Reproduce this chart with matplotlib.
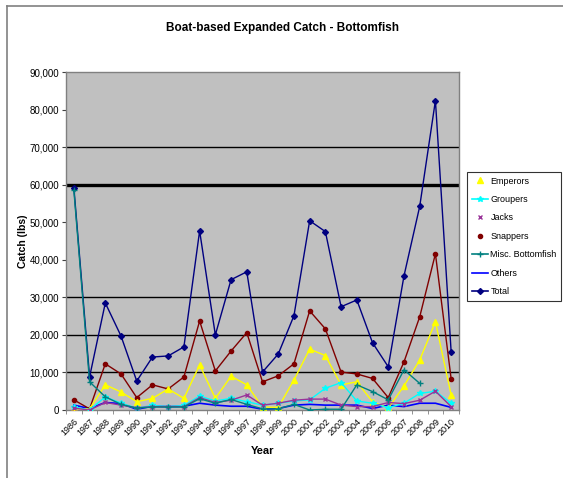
import numpy as np
import matplotlib
matplotlib.use("Agg")
import matplotlib.pyplot as plt
from matplotlib.lines import Line2D

plt.rcParams["font.family"] = ["Liberation Sans", "DejaVu Sans"]

# Data (lbs)
years = [str(y) for y in range(1986, 2011)]
emperors = [300, 300, 6700, 4800, 2200, 3100, 5600, 3100, 12000, 3100, 9000, 6700,
            800, 700, 8000, 16200, 14500, 6700, 7500, 2200, 500, 6400, 13300, 23500, 4000]
groupers = [800, 0, 3500, 1800, 500, 1200, 900, 1200, 3700, 2400, 3100, 2200,
            1300, 1800, 2400, 2700, 5800, 7300, 2400, 1800, 600, 1800, 4400, 5000, 1800]
jacks = [500, 0, 2000, 1300, 600, 900, 900, 900, 3300, 2000, 2600, 4000,
         1300, 1800, 2600, 2900, 2900, 1300, 900, 900, 2000, 1700, 2600, 5000, 900]
snappers = [2700, 300, 12300, 9600, 3300, 6700, 5600, 8800, 23700, 10400, 15700, 20600,
            7500, 9100, 12300, 26400, 21600, 10100, 9600, 8400, 3300, 12800, 24800, 41600, 8300]
misc = [58500, 7500, 3500, 1500, 500, 800, 800, 800, 3000, 1800, 2800, 1500,
        300, 300, 1500, 0, 200, 200, 6700, 4900, 2700, 10700, 7100, np.nan, np.nan]
others = [1300, 400, 2000, 1700, 200, 1000, 900, 1000, 1800, 1300, 1000, 1000,
          200, 400, 1300, 1500, 1300, 1300, 1300, 400, 1300, 900, 1800, 1800, 700]
total = [59200, 8800, 28500, 19700, 7700, 14100, 14400, 16800, 47700, 20000, 34700, 36800,
         10100, 14900, 25100, 50400, 47500, 27500, 29300, 17900, 11500, 35700, 54200, 82400, 15500]

W, H = 563, 478
fig = plt.figure(figsize=(W / 100, H / 100), dpi=100)
ax = fig.add_axes([66 / W, 1 - 410 / H, (459 - 66) / W, (410 - 72) / H])
ax.set_facecolor("#C0C0C0")

x = np.arange(len(years))

# selected gridlines as in the reference
for v, lw in [(70000, 1.0), (60000, 2.4), (30000, 1.0), (20000, 1.0), (10000, 1.0)]:
    ax.axhline(v, color="black", lw=lw, zorder=1)

ax.plot(x, total, color="#000080", lw=1.0, marker="D", ms=3, zorder=3)
ax.plot(x, others, color="#0000FF", lw=1.2, zorder=3)
ax.plot(x, snappers, color="#800000", lw=1.0, marker="o", ms=3, zorder=4)
ax.plot(x, emperors, color="#FFFF00", lw=1.0, marker="^", ms=4, zorder=4)
ax.plot(x, groupers, color="#00FFFF", lw=1.0, marker="*", ms=4, zorder=4)
ax.plot(x, jacks, color="#993399", lw=1.0, marker="x", ms=3, zorder=4)
ax.plot(x, misc, color="#008080", lw=1.0, marker="+", ms=4, zorder=5)

ax.set_xlim(-0.5, len(years) - 0.5)
ax.set_ylim(0, 90000)
ax.set_yticks(np.arange(0, 90001, 10000))
ax.set_yticklabels(["0"] + [f"{v:,}" for v in range(10000, 90001, 10000)], fontsize=7)
ax.set_xticks(x)
ax.set_xticklabels(years, rotation=45, ha="right", rotation_mode="anchor", fontsize=6.5)
ax.set_xticks(np.arange(-0.5, len(years), 1), minor=True)
ax.tick_params(axis="x", which="major", length=0, pad=5)
ax.tick_params(axis="x", which="minor", length=3, color="#808080", direction="out")
ax.tick_params(axis="y", length=3, color="#404040", pad=2)
for s in ax.spines.values():
    s.set_color("#808080")
    s.set_linewidth(1.0)

ax.set_ylabel("Catch (lbs)", fontsize=7.5, fontweight="bold", labelpad=1)
ax.set_xlabel("Year", fontsize=8, fontweight="bold", labelpad=6)
fig.text(282 / W, 1 - 28 / H, "Boat-based Expanded Catch - Bottomfish",
         ha="center", va="center", fontsize=8.5, fontweight="bold")

handles = [
    Line2D([], [], color="#FFFF00", ls="none", marker="^", ms=4),
    Line2D([], [], color="#00FFFF", lw=1.2, marker="*", ms=4),
    Line2D([], [], color="#993399", ls="none", marker="x", ms=3),
    Line2D([], [], color="#800000", ls="none", marker="o", ms=3),
    Line2D([], [], color="#008080", lw=1.2, marker="+", ms=4),
    Line2D([], [], color="#0000FF", lw=1.2),
    Line2D([], [], color="#000080", lw=1.2, marker="D", ms=3),
]
labels = ["Emperors", "Groupers", "Jacks", "Snappers", "Misc. Bottomfish", "Others", "Total"]
leg = fig.legend(handles, labels, loc="upper left", bbox_to_anchor=(467 / W, 1 - 172 / H),
                 fontsize=6.5, frameon=True, fancybox=False, edgecolor="black",
                 handlelength=1.8, handletextpad=0.3, labelspacing=1.05,
                 borderpad=0.5, borderaxespad=0)
leg.get_frame().set_linewidth(0.8)

# chart frame (top and left edges visible)
fig.add_artist(Line2D([7 / W, 7 / W], [0, 1 - 6 / H], color="#808080", lw=1.2))
fig.add_artist(Line2D([7 / W, 1], [1 - 6 / H, 1 - 6 / H], color="#808080", lw=1.2))

fig.savefig("out.png", dpi=100)
